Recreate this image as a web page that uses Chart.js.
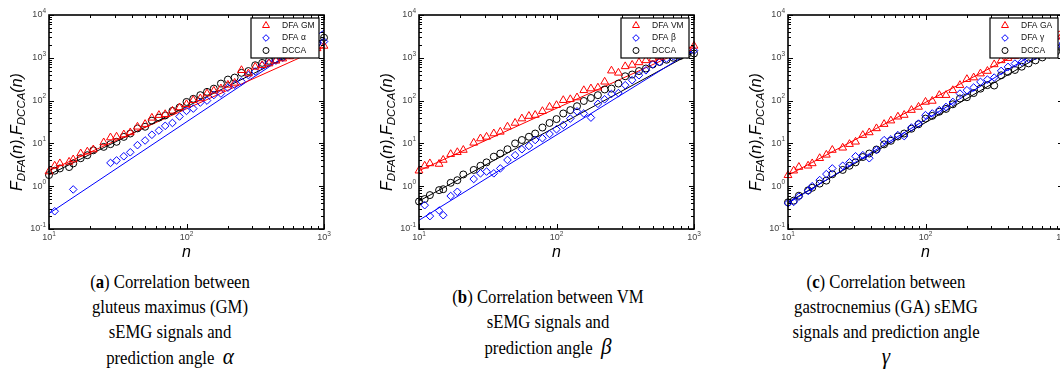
<!DOCTYPE html>
<html lang="en">
<head>
    <meta charset="UTF-8">
    <title>DFA and DCCA fluctuation functions</title>
    <script src="https://cdn.jsdelivr.net/npm/chart.js"></script>
    <style>
        html, body { margin: 0; padding: 0; width: 1060px; height: 385px; overflow: hidden; background: #fff; }
        .panel { position: absolute; top: 0; }
        .caption { position: absolute; width: 360px; text-align: center; font-family: 'Liberation Serif', serif; font-size: 19px; line-height: 25px; color: #000; transform: scaleX(0.88); transform-origin: center top; }
        .caption .greek { font-style: italic; font-size: 24px; }
    </style>
</head>
<body>
    <canvas id="chartA" class="panel" width="340" height="262" style="left:0px"></canvas>
    <canvas id="chartB" class="panel" width="340" height="262" style="left:370px"></canvas>
    <canvas id="chartC" class="panel" width="340" height="262" style="left:739px"></canvas>

    <div class="caption" style="left:-10px; top:269px">(<b>a</b>) Correlation between<br>gluteus maximus (GM)<br>sEMG signals and<br>prediction angle&nbsp;&nbsp;<span class="greek">α</span></div>
    <div class="caption" style="left:368px; top:284px">(<b>b</b>) Correlation between VM<br>sEMG signals and<br>prediction angle&nbsp;&nbsp;<span class="greek">β</span></div>
    <div class="caption" style="left:706px; top:269px">(<b>c</b>) Correlation between<br>gastrocnemius (GA) sEMG<br>signals and prediction angle<br><span class="greek">γ</span></div>

    <script>
        // window sizes n (shared by all panels)
        const nValues = [10, 11, 12, 14, 15, 17, 19, 21, 25, 28,
                         31, 35, 39, 44, 50, 56, 63, 70, 79, 89,
                         100, 112, 126, 141, 158, 178, 200, 224, 251, 282,
                         316, 355, 398, 447, 501, 562, 631, 708, 794, 891, 1000];

        // panel (a)
        const gmDFA = [2.2, 3.0, 3.4, 3.7, 4.2, 5.8, 6.4, 7.2, 10.5, 13.7,
                       14.3, 16.1, 18, 24.4, 28.2, 39.5, 45.7, 48, 57.5, 69,
                       82, 102, 112, 146, 169, 191, 233, 259, 512, 428,
                       612, 670, 733, 850, 955, 1070, 1200, 1320, 1480, 1660, 1890];
        const alphaDFA = [null, 0.26, null, null, 0.84, null, null, null, null, 3.5,
                          4.0, 5.0, 6.2, 9.1, 11.7, 15.9, 20, 25.7, 30, 42.5,
                          57.5, 65, 90, 100, 135, 146, 200, 235, 280, 395,
                          480, 660, 770, 860, 1000, 1170, 1380, 1580, 1860, 2140, 2400];
        const dccaA = [1.82, 2.3, 2.6, 2.8, 3.4, 4.5, 5.3, 6.9, 8.3, 9.6,
                       10.9, 14.2, 17, 22.4, 24.5, 34, 40, 45, 57.5, 69,
                       93, 110, 134, 160, 190, 250, 310, 345, 445, 490,
                       670, 760, 850, 910, 1050, 1200, 1400, 1600, 1900, 2200, 2950];

        // panel (b)
        const vmDFA = [2.3, 3.0, 3.4, 3.3, 4.1, 5.6, 6.2, 7.0, 10.3, 13,
                       14.2, 17, 18.6, 24.5, 30, 38, 43.5, 46, 56.5, 71,
                       78, 102, 107, 118, 174, 191, 200, 275, 500, 445,
                       630, 680, 780, 870, 950, 1050, 1200, 1330, 1500, 1680, 1900];
        const betaDFA = [null, 0.36, 0.2, 0.27, 0.21, 0.59, 0.74, null, 1.47, 2.0,
                         2.2, 2.0, 2.6, 4.1, 5.3, 7.3, 8.7, 12, 13.2, 16.6,
                         21.4, 27, 38, 56, 50, 40, 84, 107, 143, 150,
                         229, 300, 390, 510, 700, 790, 960, 1080, 1200, 1350, 1470];
        const dccaB = [0.44, 0.5, 0.62, 0.81, 0.85, 1.2, 1.38, 1.88, 2.4, 3.0,
                       3.6, 4.9, 5.8, 7.3, 10, 12, 14.3, 17, 23.5, 30,
                       37, 50, 60, 74, 98, 115, 134, 182, 191, 250,
                       370, 407, 490, 562, 700, 800, 900, 1000, 1100, 1200, 1260];

        // panel (c)
        const gaDFA = [1.8, 2.3, 2.8, 3.0, 3.4, 4.5, 5.4, 7.0, 7.9, 9.6,
                       10.9, 15.6, 18, 22.4, 28.2, 34, 42, 46, 60, 71,
                       93, 98, 134, 134, 174, 229, 316, 345, 427, 490,
                       700, 870, 980, 1100, 1300, 1550, 1850, 2200, 2600, 3100, 3700];
        const gammaDFA = [0.40, 0.43, 0.57, 0.78, 1.0, 1.39, 1.92, 2.6, 3.0, 3.6,
                          5.0, 5.3, 4.5, 7.0, 11.9, 12.4, 15.6, 14.8, 23.5, 29,
                          45.7, 50, 60, 71, 93, 146, 175, 202, 274, 310,
                          345, 494, 612, 733, 800, 950, 1100, 1300, 1550, 1850, 2200];
        const dccaC = [0.42, 0.46, 0.6, 0.8, 0.92, 1.15, 1.35, 1.9, 2.4, 3.0,
                       3.6, 4.8, 5.8, 7.2, 9.5, 11.5, 14.5, 17, 22, 28,
                       38, 44, 55, 64, 82, 112, 120, 150, 190, 230,
                       225, 390, 470, 520, 620, 740, 870, 1020, 1200, 1400, 1650];

        // fitted power-law lines, value at n = 10 and n = 1000
        const fitN = [10, 1000];
        const gmFit = [2.3, 1800], alphaFit = [0.23, 4400], dccaAFit = [1.85, 2800];
        const vmFit = [2.3, 1900], betaFit = [0.16, 1550], dccaBFit = [0.45, 1370];
        const gaFit = [1.8, 4600], gammaFit = [0.4, 3200], dccaCFit = [0.42, 2240];

        const legendA = ['DFA GM', 'DFA α', 'DCCA'];
        const legendB = ['DFA VM', 'DFA β', 'DCCA'];
        const legendC = ['DFA GA', 'DFA γ', 'DCCA'];

        // axis ticks
        const xTickValues = [10, 100, 1000];
        const xTickExps = ['1', '2', '3'];
        const yTickValues = [0.1, 1, 10, 100, 1000, 10000];
        const yTickExps = ['-1', '0', '1', '2', '3', '4'];

        const RED = 'rgb(255,0,0)', BLUE = 'rgb(0,0,255)', BLACK = 'rgb(0,0,0)';
        const markers = [
            { pointStyle: 'triangle', radius: 4.5, color: RED },
            { pointStyle: 'rectRot', radius: 3.8, color: BLUE },
            { pointStyle: 'circle', radius: 3.5, color: BLACK }
        ];

        function points(ys) {
            return nValues.map((n, i) => ({ x: n, y: ys[i] })).filter(p => p.y !== null);
        }
        function fitLine(ys) {
            return fitN.map((n, i) => ({ x: n, y: ys[i] }));
        }

        // minor tick values between the decades of a log axis
        function minorTicks(majors) {
            const out = [];
            for (let i = 0; i < majors.length - 1; i++) {
                for (let m = 2; m <= 9; m++) out.push(majors[i] * m);
            }
            return out;
        }

        // box frame, inward ticks, 10^k labels and axis titles
        const framePlugin = {
            id: 'frame',
            afterDraw(chart) {
                const { ctx, chartArea: a, scales: { x, y } } = chart;
                ctx.save();
                ctx.strokeStyle = '#000';
                ctx.lineWidth = 1;
                const tick = (x1, y1, x2, y2) => { ctx.beginPath(); ctx.moveTo(x1, y1); ctx.lineTo(x2, y2); ctx.stroke(); };

                xTickValues.concat(minorTicks(xTickValues)).forEach((v, i) => {
                    const px = Math.round(x.getPixelForValue(v)) + 0.5;
                    const len = i < xTickValues.length ? 5 : 3;
                    tick(px, a.bottom, px, a.bottom - len);
                    tick(px, a.top, px, a.top + len);
                });
                yTickValues.concat(minorTicks(yTickValues)).forEach((v, i) => {
                    const py = Math.round(y.getPixelForValue(v)) + 0.5;
                    const len = i < yTickValues.length ? 5 : 3;
                    tick(a.left, py, a.left + len, py);
                    tick(a.right, py, a.right - len, py);
                });

                ctx.lineWidth = 1.6;
                ctx.strokeRect(a.left, a.top, a.right - a.left, a.bottom - a.top);

                // tick labels
                ctx.fillStyle = '#444';
                ctx.textBaseline = 'middle';
                const big = '9px "Liberation Sans", Arial, sans-serif';
                const small = '6.5px "Liberation Sans", Arial, sans-serif';
                yTickValues.forEach((v, i) => {
                    const py = y.getPixelForValue(v);
                    ctx.font = small;
                    const sw = ctx.measureText(yTickExps[i]).width;
                    ctx.textAlign = 'right';
                    ctx.fillText(yTickExps[i], a.left - 3, py - 4);
                    ctx.font = big;
                    ctx.fillText('10', a.left - 3 - sw, py);
                });
                xTickValues.forEach((v, i) => {
                    const px = x.getPixelForValue(v);
                    ctx.font = big;
                    const bw = ctx.measureText('10').width;
                    ctx.font = small;
                    const sw = ctx.measureText(xTickExps[i]).width;
                    const start = px - (bw + sw) / 2;
                    ctx.textAlign = 'left';
                    ctx.font = big;
                    ctx.fillText('10', start, a.bottom + 9);
                    ctx.font = small;
                    ctx.fillText(xTickExps[i], start + bw, a.bottom + 5);
                });

                // x title
                ctx.fillStyle = '#000';
                ctx.font = 'italic 16px "Liberation Sans", Arial, sans-serif';
                ctx.textAlign = 'center';
                ctx.fillText('n', (a.left + a.right) / 2, a.bottom + 24);

                // y title F_DFA(n),F_DCCA(n)
                const parts = [['F', 0], ['DFA', 1], ['(n),', 0], ['F', 0], ['DCCA', 1], ['(n)', 0]];
                const mainFont = 'italic 16px "Liberation Sans", Arial, sans-serif';
                const subFont = 'italic 11.5px "Liberation Sans", Arial, sans-serif';
                let total = 0;
                parts.forEach(p => { ctx.font = p[1] ? subFont : mainFont; total += ctx.measureText(p[0]).width; });
                ctx.translate(a.left - 33, 132);
                ctx.rotate(-Math.PI / 2);
                ctx.textAlign = 'left';
                ctx.textBaseline = 'alphabetic';
                let u = -total / 2;
                parts.forEach(p => {
                    ctx.font = p[1] ? subFont : mainFont;
                    ctx.fillText(p[0], u, p[1] ? 9 : 5.5);
                    u += ctx.measureText(p[0]).width;
                });
                ctx.restore();
            }
        };

        // boxed legend in the upper right corner of the plot
        const legendPlugin = {
            id: 'boxLegend',
            afterDraw(chart, args, opts) {
                const { ctx, chartArea: a } = chart;
                const w = 68, h = 40;
                const left = a.right - 5 - w, top = a.top + 3;
                ctx.save();
                ctx.fillStyle = '#fff';
                ctx.fillRect(left, top, w, h);
                ctx.strokeStyle = '#000';
                ctx.lineWidth = 1.2;
                ctx.strokeRect(left, top, w, h);
                ctx.font = '8.5px "Liberation Sans", Arial, sans-serif';
                ctx.textBaseline = 'middle';
                ctx.textAlign = 'left';
                opts.labels.forEach((label, i) => {
                    const yy = top + 7.5 + i * 12.5;
                    const m = markers[i];
                    ctx.strokeStyle = m.color;
                    ctx.fillStyle = 'rgba(0,0,0,0)';
                    ctx.lineWidth = 1;
                    Chart.helpers.drawPoint(ctx, { pointStyle: m.pointStyle, radius: m.radius - 0.5, borderWidth: 1 }, left + 15, yy);
                    ctx.fillStyle = '#111';
                    ctx.fillText(label, left + 31, yy);
                });
                ctx.restore();
            }
        };

        function makeChart(canvasId, series, fits, labels) {
            const pointSets = series.map((ys, i) => ({
                label: labels[i],
                data: points(ys),
                pointStyle: markers[i].pointStyle,
                pointRadius: markers[i].radius,
                borderColor: markers[i].color,
                backgroundColor: 'rgba(0,0,0,0)',
                pointBorderWidth: 1,
                clip: false
            }));
            const lineSets = fits.map((ys, i) => ({
                label: labels[i] + ' fit',
                data: fitLine(ys),
                showLine: true,
                pointRadius: 0,
                borderColor: markers[i].color,
                borderWidth: 1,
                fill: false
            }));
            return new Chart(document.getElementById(canvasId), {
                type: 'scatter',
                data: { datasets: pointSets.concat(lineSets) },
                options: {
                    responsive: false,
                    animation: false,
                    devicePixelRatio: 1,
                    layout: { padding: { left: 0, right: 16, top: 15, bottom: 0 } },
                    plugins: {
                        legend: { display: false },
                        tooltip: { enabled: false },
                        boxLegend: { labels: labels }
                    },
                    scales: {
                        x: {
                            type: 'logarithmic', min: 10, max: 1000,
                            grid: { display: false }, border: { display: false },
                            ticks: { display: false },
                            afterFit: s => { s.height = 33; }
                        },
                        y: {
                            type: 'logarithmic', min: 0.1, max: 10000,
                            grid: { display: false }, border: { display: false },
                            ticks: { display: false },
                            afterFit: s => { s.width = 49; }
                        }
                    }
                },
                plugins: [framePlugin, legendPlugin]
            });
        }

        window.onload = () => {
            makeChart('chartA', [gmDFA, alphaDFA, dccaA], [gmFit, alphaFit, dccaAFit], legendA);
            makeChart('chartB', [vmDFA, betaDFA, dccaB], [vmFit, betaFit, dccaBFit], legendB);
            makeChart('chartC', [gaDFA, gammaDFA, dccaC], [gaFit, gammaFit, dccaCFit], legendC);
        };
    </script>
</body>
</html>
